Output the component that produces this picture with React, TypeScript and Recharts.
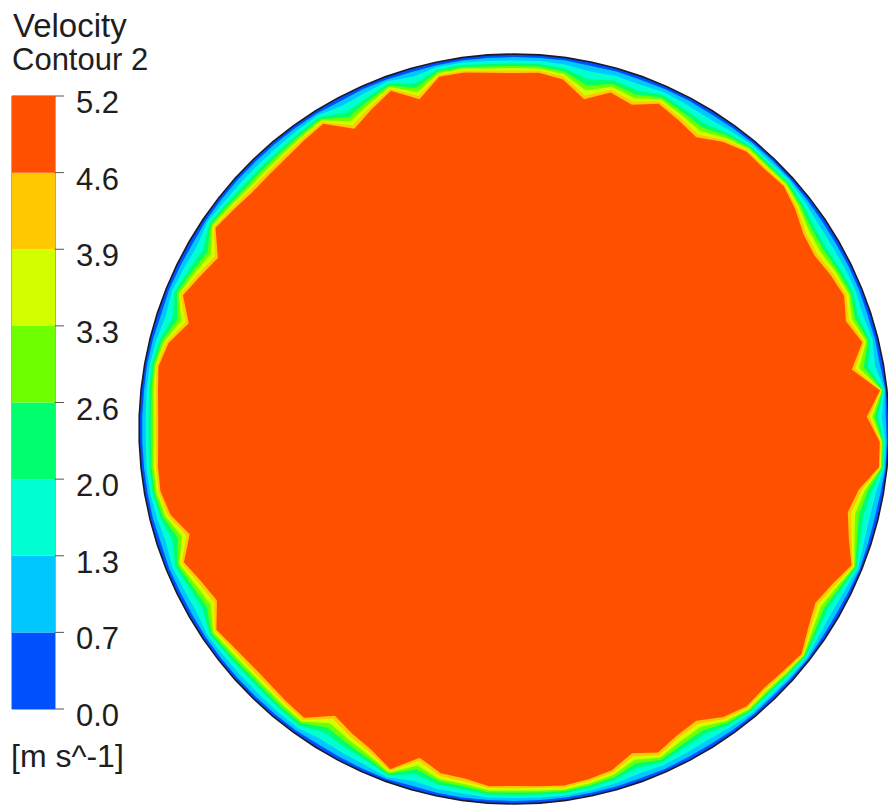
import {
  RadarChart,
  Radar,
  PolarAngleAxis,
  PolarRadiusAxis,
  BarChart,
  Bar,
  XAxis,
  YAxis,
  ReferenceArea,
} from 'recharts';

// ---------------- LEGEND DATA ----------------
const LEVEL_LABELS = ['0.0', '0.7', '1.3', '2.0', '2.6', '3.3', '3.9', '4.6', '5.2'];
const LEVEL_TICKS = [0, 1, 2, 3, 4, 5, 6, 7, 8];
// one colour per band, from 0.0-0.7 up to 4.6-5.2
const BAND_COLORS = ['#0050ff', '#00c8ff', '#00ffd2', '#00ff6e', '#6eff00', '#d2ff00', '#ffc800', '#ff5000'];
const BAND_KEYS = ['b0', 'b1', 'b2', 'b3', 'b4', 'b5', 'b6', 'b7'];
const BAND_STEPS = [1, 1, 1, 1, 1, 1, 1, 1];

// ---------------- CONTOUR DATA ----------------
// pipe wall radius (radius axis units)
const WALL_RADIUS = 375;
// sample angles, clockwise from the top
const ANGLES = Array.from({ length: 90 }, (_, i) => i * 4);

// depth of each contour line below the wall, per angle
const DEPTH_07 = [
  3, 3, 3, 4, 3, 3.5, 3, 3, 3.5, 3,
  2.5, 2.5, 2.5, 3, 3.5, 3.5, 3, 3, 3.5, 3,
  3.5, 1.5, 3, 2, 1.5, 3, 3.5, 3, 2, 3,
  3.5, 3, 2, 2.5, 3, 2.5, 3, 3.5, 3.5, 3,
  3.5, 3, 3, 3, 3, 3, 3, 3, 3, 4,
  2.5, 3, 3.5, 4, 3, 3, 3, 3, 3, 3,
  3.5, 3.5, 3, 4, 3, 3, 3, 3, 3, 3,
  2.5, 3, 4, 3, 3.5, 4, 3, 3, 3, 3,
  3, 3, 3, 4, 3, 3, 3.5, 3, 3, 3,
];
const DEPTH_13 = [
  6.5, 6, 7, 9.5, 7.5, 8.5, 6.5, 7.5, 8.5, 6.5,
  4.5, 5, 4, 6, 8, 8, 7, 6.5, 8, 5.5,
  8.5, 2.5, 7, 3.5, 3, 7.5, 8.5, 7, 4, 7,
  8, 6.5, 3.5, 4.5, 5, 4.5, 6.5, 8.5, 8, 7,
  8.5, 6.5, 5.5, 5, 5.5, 6, 5.5, 7, 7, 9,
  4.5, 7.5, 8.5, 9.5, 6, 6.5, 7, 7, 6.5, 5.5,
  8.5, 8, 6.5, 9, 7, 5.5, 5.5, 6.5, 6.5, 5.5,
  5, 6.5, 9, 6, 8, 9, 5, 6.5, 7, 7,
  7, 6, 5, 9, 7.5, 5, 8.5, 5, 5, 6,
];
const DEPTH_20 = [
  9.5, 9, 11, 17.5, 12.5, 14.5, 9.5, 12.5, 15, 10,
  6.5, 7, 6, 9, 13, 14, 11.5, 9.5, 13, 8,
  15.5, 3.5, 11, 5, 4, 12.5, 15, 11.5, 5.5, 10.5,
  13.5, 10, 5, 6.5, 7.5, 6.5, 9.5, 15, 14, 10.5,
  14.5, 10, 8.5, 7.5, 8.5, 9, 8.5, 11, 11.5, 16,
  6.5, 12, 14.5, 17, 9, 10, 11, 11, 10, 8,
  15.5, 13.5, 9.5, 16, 10.5, 8, 8.5, 9.5, 9.5, 8.5,
  7, 9.5, 16, 9, 13, 16, 7.5, 9.5, 11, 11,
  10.5, 9, 7.5, 16.5, 12.5, 7.5, 15.5, 7.5, 7.5, 9,
];
const DEPTH_26 = [
  12, 11.5, 14, 23.5, 16, 19, 12, 16, 19.5, 12.5,
  8, 9, 7.5, 11.5, 16.5, 17.5, 14.5, 12, 16.5, 10,
  20, 4.5, 14, 6, 5, 16, 19.5, 14.5, 7, 13,
  17, 12.5, 6.5, 8, 9.5, 8, 12, 19.5, 17.5, 13,
  19, 12.5, 10.5, 9.5, 10.5, 11.5, 10.5, 14, 14.5, 21,
  8, 15, 19, 23, 11.5, 12.5, 14, 14, 12.5, 10,
  20, 17, 12, 21.5, 13, 10, 10.5, 12, 12, 10.5,
  9, 12, 21, 11.5, 16.5, 21, 9.5, 12, 14, 14,
  13, 11.5, 9.5, 22, 16, 9.5, 20, 9.5, 9.5, 11.5,
];
const DEPTH_33 = [
  14, 13.5, 16.5, 29, 19, 23, 14, 19, 23.5, 15,
  9.5, 10.5, 9, 13.5, 19.5, 21, 17, 14, 19.5, 12,
  24.5, 5, 16.5, 7, 6, 19, 23.5, 17, 8, 15.5,
  20.5, 15, 7.5, 9.5, 11, 9.5, 14, 23.5, 21, 15.5,
  23, 15, 12.5, 11, 12.5, 13.5, 12.5, 16.5, 17, 25,
  9.5, 18, 23, 28, 13.5, 15, 16.5, 16.5, 15, 12,
  24.5, 20.5, 14, 26, 15.5, 12, 12.5, 14, 14, 12.5,
  10.5, 14, 25, 13.5, 19.5, 25, 11, 14, 16.5, 16.5,
  15.5, 13.5, 11, 26.5, 19, 11, 24.5, 11, 11, 13.5,
];
const DEPTH_39 = [
  16.5, 15.5, 19, 34, 22, 26.5, 16.5, 22, 27.5, 17.5,
  11, 12, 10.5, 15.5, 23, 25, 20, 16.5, 23, 14,
  28.5, 6, 19, 8, 7, 22, 27.5, 20, 9.5, 18,
  24, 17.5, 8.5, 11, 13, 11, 16.5, 27.5, 25, 18,
  26.5, 17.5, 15, 13, 15, 15.5, 15, 19, 20, 29.5,
  11, 21, 26.5, 33, 15.5, 17.5, 19, 19, 17.5, 14,
  28.5, 24, 16.5, 30.5, 18, 14, 15, 16.5, 16.5, 15,
  12, 16.5, 29.5, 15.5, 23, 29.5, 13, 16.5, 19, 19,
  18, 15.5, 13, 31, 22, 13, 28.5, 13, 13, 15.5,
];
const DEPTH_46 = [
  19, 18, 22, 38, 25, 30, 19, 25, 31, 20,
  13, 14, 12, 18, 26, 28, 23, 19, 26, 16,
  32, 7, 22, 9, 8, 25, 31, 23, 11, 21,
  27, 20, 10, 13, 15, 13, 19, 31, 28, 21,
  30, 20, 17, 15, 17, 18, 17, 22, 23, 33,
  13, 24, 30, 37, 18, 20, 22, 22, 20, 16,
  32, 27, 19, 34, 21, 16, 17, 19, 19, 17,
  14, 19, 33, 18, 26, 33, 15, 19, 22, 22,
  21, 18, 15, 35, 25, 15, 32, 15, 15, 18,
];

const CONTOUR_KEYS = ['c07', 'c13', 'c20', 'c26', 'c33', 'c39', 'c46'];
const CONTOUR_DEPTHS = [DEPTH_07, DEPTH_13, DEPTH_20, DEPTH_26, DEPTH_33, DEPTH_39, DEPTH_46];

const radarData = ANGLES.map((angle, i) => {
  const row: Record<string, number> = { angle, wall: WALL_RADIUS };
  CONTOUR_KEYS.forEach((k, j) => {
    row[k] = WALL_RADIUS - CONTOUR_DEPTHS[j][i];
  });
  return row;
});

const legendRow = [
  BAND_KEYS.reduce((acc: Record<string, any>, k, i) => ({ ...acc, [k]: BAND_STEPS[i] }), { name: 'bar' }),
];

const FONT = '"Liberation Sans", Arial, Helvetica, sans-serif';
const TEXT_COLOR = '#1e1e1e';

// ---------------- LEGEND TICK ----------------
const LevelTick = ({ x, y, payload }: any) => (
  <text x={x} y={y + 17} fontSize={31} fontFamily={FONT} fill={TEXT_COLOR} textAnchor="start">
    {LEVEL_LABELS[payload.value]}
  </text>
);

// ---------------- COMPONENT ----------------
export default function App() {
  return (
    <div style={{ position: 'absolute', left: 0, top: 0, width: 888, height: 807, background: '#fff', overflow: 'hidden' }}>
      <svg width={888} height={807} style={{ position: 'absolute', left: 0, top: 0 }}>
        <text x={13} y={37} fontSize={33} fontFamily={FONT} fill={TEXT_COLOR}>
          Velocity
        </text>
        <text x={12} y={69.5} fontSize={31} fontFamily={FONT} fill={TEXT_COLOR}>
          Contour 2
        </text>
        <text x={11} y={767} fontSize={32} fontFamily={FONT} fill={TEXT_COLOR}>
          [m s^-1]
        </text>
      </svg>

      {/* COLOUR BAR */}
      <div style={{ position: 'absolute', left: 0, top: 0 }}>
        <BarChart
          width={140}
          height={740}
          data={legendRow}
          margin={{ top: 96, right: 0, bottom: 31, left: 12 }}
          barCategoryGap={0}
          barGap={0}>
          <XAxis dataKey="name" hide />
          <YAxis
            orientation="right"
            type="number"
            domain={[0, 8]}
            ticks={LEVEL_TICKS}
            interval={0}
            width={85}
            axisLine={false}
            tickSize={9}
            tickMargin={12}
            tickLine={{ stroke: '#555', strokeWidth: 1 }}
            tick={<LevelTick />}
          />
          {BAND_KEYS.map((k, i) => (
            <Bar key={k} dataKey={k} stackId="bands" fill={BAND_COLORS[i]} isAnimationActive={false} />
          ))}
          <ReferenceArea y1={0} y2={8} fill="none" stroke="#555" strokeWidth={1} />
        </BarChart>
      </div>

      {/* CONTOUR DISC */}
      <div style={{ position: 'absolute', left: 0, top: 0 }}>
        <RadarChart
          width={888}
          height={807}
          data={radarData}
          cx={514}
          cy={429}
          outerRadius={375}
          startAngle={90}
          endAngle={-270}
          margin={{ top: 0, right: 0, bottom: 0, left: 0 }}>
          <PolarAngleAxis dataKey="angle" tick={false} axisLine={false} tickLine={false} />
          <PolarRadiusAxis
            type="number"
            domain={[0, WALL_RADIUS]}
            allowDataOverflow
            tick={false}
            axisLine={false}
            tickLine={false}
          />
          <Radar
            dataKey="wall"
            fill={BAND_COLORS[0]}
            fillOpacity={1}
            stroke="#1a1a2a"
            strokeWidth={1.6}
            dot={false}
            isAnimationActive={false}
          />
          {CONTOUR_KEYS.map((k, i) => (
            <Radar
              key={k}
              dataKey={k}
              fill={BAND_COLORS[i + 1]}
              fillOpacity={1}
              stroke="none"
              dot={false}
              isAnimationActive={false}
            />
          ))}
        </RadarChart>
      </div>
    </div>
  );
}
